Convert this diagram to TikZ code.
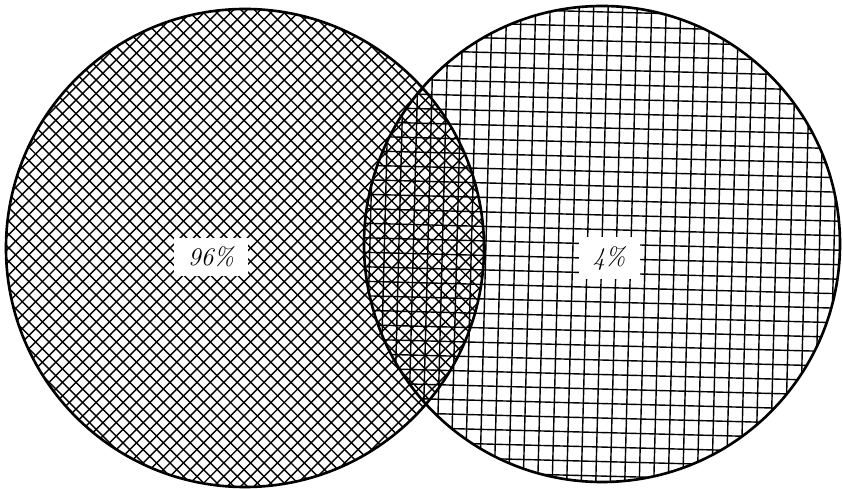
\documentclass[tikz,border=0pt]{standalone}
\begin{document}
\begin{tikzpicture}[x=0.02cm, y=-0.02cm,
  rim/.style={draw=black, line width=1.5pt},
  hatch/.style={draw=black, line width=0.8pt},
  pct/.style={fill=white, inner xsep=8pt, inner ysep=5pt, font=\Large\itshape}]
\useasboundingbox (0,0) rectangle (843,489);
\coordinate (cL) at (245,248);
\coordinate (cR) at (602,244);
% left set: fine grid turned by 45 degrees, right set: coarse upright grid;
% where the two discs meet both grids are laid over each other
\begin{scope}
  \clip (cL) circle [radius=239];
  \begin{scope}[shift={(cL)}, rotate=45]
    \foreach \d in {-243,-233.5,...,243} {
      \draw[hatch] (\d,-250) -- (\d,250);
      \draw[hatch] (-250,\d) -- (250,\d);
    }
  \end{scope}
\end{scope}
\begin{scope}
  \clip (cR) circle [radius=238];
  \begin{scope}[shift={(cR)}, rotate=-1.5]
    \foreach \d in {-246.5,-232,...,246.5} {
      \draw[hatch] (\d,-250) -- (\d,250);
      \draw[hatch] (-250,\d) -- (250,\d);
    }
  \end{scope}
\end{scope}
\draw[rim] (cL) circle [radius=239];
\draw[rim] (cR) circle [radius=238];
\node[pct] (pL) at (211,257) {96\%};
\node[pct] (pR) at (609,258) {4\%};
\end{tikzpicture}
\end{document}
